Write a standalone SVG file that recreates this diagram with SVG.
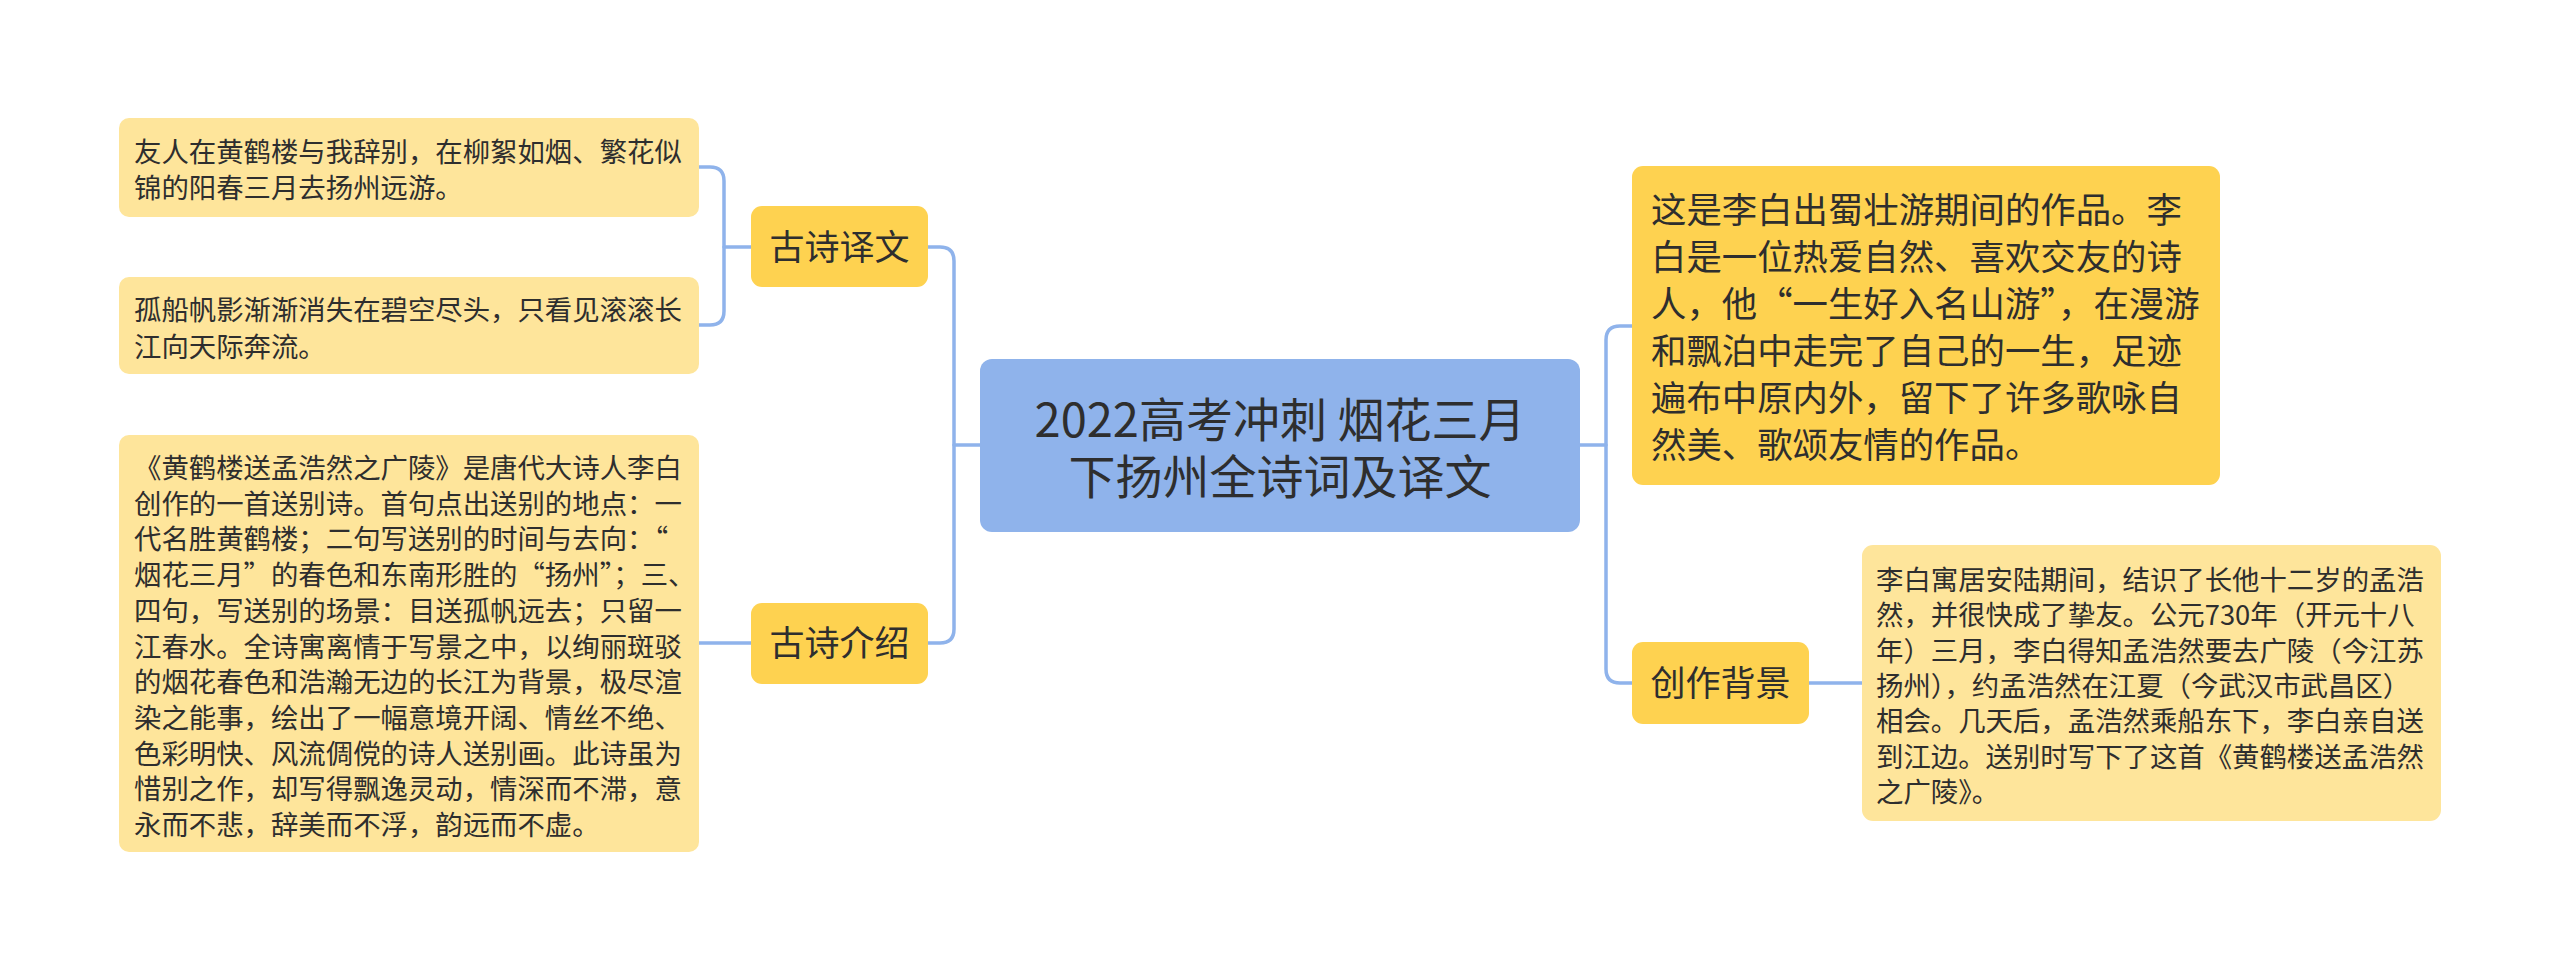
<svg xmlns="http://www.w3.org/2000/svg" width="2560" height="972" viewBox="0 0 2560 972">
<style>
text{font-family:"Noto Sans CJK SC","Noto Sans",sans-serif;fill:#2e2e2e}
.center{fill:#8fb3eb}
.main{fill:#fed250}
.leaf{fill:#fee59b}
.t45{font-size:47px}
.t35{font-size:35px}
.t354{font-size:35.4px}
.t27{font-size:27.4px}
.mid{text-anchor:middle}
.conn{fill:none;stroke:#8fb3eb;stroke-width:3.5;stroke-linecap:round}
</style>
<rect width="2560" height="972" fill="#ffffff"/>
<g id="connectors">
<path class="conn" d="M980,445 H954"/>
<path class="conn" d="M928,247 H940 Q954,247 954,261 V629 Q954,643 940,643 H928"/>
<path class="conn" d="M751,247 H724"/>
<path class="conn" d="M699,167 H710 Q724,167 724,181 V311 Q724,325 710,325 H699"/>
<path class="conn" d="M751,643 H699"/>
<path class="conn" d="M1580,445 H1606"/>
<path class="conn" d="M1632,326 H1620 Q1606,326 1606,340 V669 Q1606,683 1620,683 H1632"/>
<path class="conn" d="M1809,683 H1862"/>
</g>
<g id="center">
<rect class="center" x="980" y="359" width="600" height="173" rx="12"/>
<text class="t45 mid"><tspan x="1280" y="437">2022高考冲刺 烟花三月</tspan><tspan x="1280" y="494">下扬州全诗词及译文</tspan></text>
</g>
<g id="n-yiwen">
<rect class="main" x="751" y="206" width="177" height="81" rx="11"/>
<text class="t35 mid" x="839.5" y="260">古诗译文</text>
</g>
<g id="n-jieshao">
<rect class="main" x="751" y="603" width="177" height="81" rx="11"/>
<text class="t35 mid" x="839.5" y="656">古诗介绍</text>
</g>
<g id="n-beijing">
<rect class="main" x="1632" y="642" width="177" height="82" rx="11"/>
<text class="t35 mid" x="1720.5" y="696">创作背景</text>
</g>
<g id="leaf-yiwen-1">
<rect class="leaf" x="119" y="118" width="580" height="99" rx="10"/>
<text class="t27" x="134" y="162">友人在黄鹤楼与我辞别，在柳絮如烟、繁花似</text>
<text class="t27" x="134" y="198">锦的阳春三月去扬州远游。</text>
</g>
<g id="leaf-yiwen-2">
<rect class="leaf" x="119" y="277" width="580" height="97" rx="10"/>
<text class="t27" x="134" y="320">孤船帆影渐渐消失在碧空尽头，只看见滚滚长</text>
<text class="t27" x="134" y="357">江向天际奔流。</text>
</g>
<g id="leaf-jieshao">
<rect class="leaf" x="119" y="435" width="580" height="417" rx="10"/>
<text class="t27" x="134" y="478">《黄鹤楼送孟浩然之广陵》是唐代大诗人李白</text>
<text class="t27" x="134" y="513.7">创作的一首送别诗。首句点出送别的地点：一</text>
<text class="t27" x="134" y="549.4">代名胜黄鹤楼；二句写送别的时间与去向：“</text>
<text class="t27" x="134" y="585.1">烟花三月”的春色和东南形胜的“扬州”；三、</text>
<text class="t27" x="134" y="620.8">四句，写送别的场景：目送孤帆远去；只留一</text>
<text class="t27" x="134" y="656.5">江春水。全诗寓离情于写景之中，以绚丽斑驳</text>
<text class="t27" x="134" y="692.2">的烟花春色和浩瀚无边的长江为背景，极尽渲</text>
<text class="t27" x="134" y="727.9">染之能事，绘出了一幅意境开阔、情丝不绝、</text>
<text class="t27" x="134" y="763.6">色彩明快、风流倜傥的诗人送别画。此诗虽为</text>
<text class="t27" x="134" y="799.3">惜别之作，却写得飘逸灵动，情深而不滞，意</text>
<text class="t27" x="134" y="835">永而不悲，辞美而不浮，韵远而不虚。</text>
</g>
<g id="leaf-right-1">
<rect class="main" x="1632" y="166" width="588" height="319" rx="11"/>
<text class="t354" x="1651" y="223">这是李白出蜀壮游期间的作品。李</text>
<text class="t354" x="1651" y="270">白是一位热爱自然、喜欢交友的诗</text>
<text class="t354" x="1651" y="317">人，他“一生好入名山游”，在漫游</text>
<text class="t354" x="1651" y="364">和飘泊中走完了自己的一生，足迹</text>
<text class="t354" x="1651" y="411">遍布中原内外，留下了许多歌咏自</text>
<text class="t354" x="1651" y="458">然美、歌颂友情的作品。</text>
</g>
<g id="leaf-beijing">
<rect class="leaf" x="1862" y="545" width="579" height="276" rx="11"/>
<text class="t27" x="1876" y="590">李白寓居安陆期间，结识了长他十二岁的孟浩</text>
<text class="t27" x="1876" y="625.3">然，并很快成了挚友。公元730年（开元十八</text>
<text class="t27" x="1876" y="660.6">年）三月，李白得知孟浩然要去广陵（今江苏</text>
<text class="t27" x="1876" y="695.9">扬州），约孟浩然在江夏（今武汉市武昌区）</text>
<text class="t27" x="1876" y="731.2">相会。几天后，孟浩然乘船东下，李白亲自送</text>
<text class="t27" x="1876" y="766.5">到江边。送别时写下了这首《黄鹤楼送孟浩然</text>
<text class="t27" x="1876" y="801.8">之广陵》。</text>
</g>
</svg>
